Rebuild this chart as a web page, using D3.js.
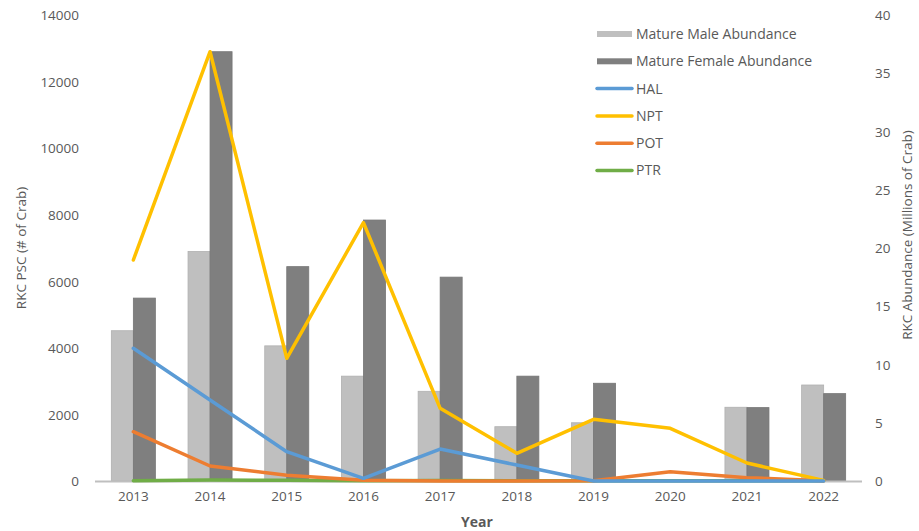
<!DOCTYPE html>
<html>
<head>
<meta charset="utf-8">
<script src="https://cdn.jsdelivr.net/npm/d3@7"></script>
<style>
  body { margin: 0; background: #fff; }
  text { font-family: "Open Sans", "Liberation Sans", sans-serif; fill: #595959; }
</style>
</head>
<body>
<svg id="vis"></svg>
<script>
// chart values
var years = ["2013", "2014", "2015", "2016", "2017", "2018", "2019", "2020", "2021", "2022"];
// abundance in millions of crab (right axis)
var maleAbundance   = [12.9, 19.7, 11.6, 9.0, 7.7, 4.66, 5.0, null, 6.33, 8.24];
var femaleAbundance = [15.7, 36.85, 18.4, 22.4, 17.5, 9.0, 8.39, null, 6.3, 7.5];
// PSC, number of crab (left axis)
var hal = [3986, 2433, 880, 80, 961, 480, 0, 0, 0, 0];
var npt = [6640, 12897, 3686, 7760, 2183, 831, 1853, 1583, 540, 20];
var pot = [1481, 450, 170, 20, 0, 0, 10, 280, 100, 10];
var ptr = [10, 30, 20, 10, 15, 10, 10, 10, 5, 10];

var leftTicks = [0, 2000, 4000, 6000, 8000, 10000, 12000, 14000];
var rightTicks = [0, 5, 10, 15, 20, 25, 30, 35, 40];

var lineSeries = [
    {name: "HAL", values: hal, color: "#5b9bd5"},
    {name: "NPT", values: npt, color: "#ffc000"},
    {name: "POT", values: pot, color: "#ed7d31"},
    {name: "PTR", values: ptr, color: "#70ad47"}
];
var barSeries = [
    {name: "Mature Male Abundance", values: maleAbundance, color: "#bfbfbf", stroke: "#b0b0b0"},
    {name: "Mature Female Abundance", values: femaleAbundance, color: "#7f7f7f", stroke: "#767676"}
];

var width = 919, height = 531;
var plotLeft = 95, plotRight = 862, plotTop = 15, plotBottom = 481;

var svg = d3.select("#vis")
    .attr("width", width)
    .attr("height", height);

var x = d3.scaleBand()
    .domain(years)
    .range([plotLeft, plotRight])
    .padding(0);

var x1 = d3.scaleBand()
    .domain(["male", "female"])
    .range([0, x.bandwidth()])
    .paddingInner(0)
    .paddingOuter(0.742);

var yLeft = d3.scaleLinear()
    .domain([0, 14000])
    .range([plotBottom, plotTop]);

var yRight = d3.scaleLinear()
    .domain([0, 40])
    .range([plotBottom, plotTop]);

// left axis labels
var leftAxis = d3.axisLeft(yLeft).tickValues(leftTicks).tickSize(0).tickPadding(0)
    .tickFormat(d3.format("d"));
svg.append("g")
    .attr("class", "y axis")
    .attr("transform", "translate(79,0)")
    .call(leftAxis)
    .call(function (g) { g.select(".domain").remove(); })
    .selectAll("text")
    .style("font-size", "13.5px")
    .attr("dy", "0.35em");

// right axis labels
var rightAxis = d3.axisRight(yRight).tickValues(rightTicks).tickSize(0).tickPadding(0);
svg.append("g")
    .attr("class", "y2 axis")
    .attr("transform", "translate(875,0)")
    .call(rightAxis)
    .call(function (g) { g.select(".domain").remove(); })
    .selectAll("text")
    .style("font-size", "13.5px")
    .attr("dy", "0.35em");

// bars
barSeries.forEach(function (s, si) {
    var key = si === 0 ? "male" : "female";
    svg.append("g").selectAll("rect")
        .data(years.map(function (y, i) { return {year: y, v: s.values[i]}; })
            .filter(function (d) { return d.v != null; }))
        .enter().append("rect")
        .attr("x", function (d) { return x(d.year) + x1(key); })
        .attr("width", x1.bandwidth())
        .attr("y", function (d) { return yRight(d.v); })
        .attr("height", function (d) { return plotBottom - yRight(d.v); })
        .style("fill", s.color)
        .style("stroke", s.stroke)
        .style("stroke-width", 0.8);
});

// x axis line
svg.append("line")
    .attr("x1", plotLeft).attr("x2", plotRight)
    .attr("y1", plotBottom + 0.5).attr("y2", plotBottom + 0.5)
    .style("stroke", "#bfbfbf")
    .style("stroke-width", 2);

// x labels
var xAxis = d3.axisBottom(x).tickSize(0).tickPadding(0);
svg.append("g")
    .attr("class", "x axis")
    .attr("transform", "translate(0,491)")
    .call(xAxis)
    .call(function (g) { g.select(".domain").remove(); })
    .selectAll("text")
    .style("font-size", "13.5px")
    .attr("dy", "0.71em");

// lines
var line = d3.line()
    .x(function (d, i) { return x(years[i]) + x.bandwidth() / 2; })
    .y(function (d) { return yLeft(d); });

lineSeries.slice().reverse().forEach(function (s) {
    svg.append("path")
        .datum(s.values)
        .attr("d", line)
        .style("fill", "none")
        .style("stroke", s.color)
        .style("stroke-width", 3.5)
        .style("stroke-linejoin", "round")
        .style("stroke-linecap", "round");
});

// axis titles
svg.append("text")
    .attr("transform", "translate(26,248) rotate(-90)")
    .style("text-anchor", "middle")
    .style("font-size", "13.5px")
    .text("RKC PSC  (# of Crab)");

svg.append("text")
    .attr("transform", "translate(912,235) rotate(-90)")
    .style("text-anchor", "middle")
    .style("font-size", "13.5px")
    .text("RKC Abundance (Millions of Crab)");

svg.append("text")
    .attr("x", 477)
    .attr("y", 527)
    .style("text-anchor", "middle")
    .style("font-size", "14px")
    .style("font-weight", "bold")
    .style("fill", "#595959")
    .text("Year");

// legend
var legendItems = barSeries.map(function (s) { return {name: s.name, color: s.color, type: "bar"}; })
    .concat(lineSeries.map(function (s) { return {name: s.name, color: s.color, type: "line"}; }));

var legend = svg.selectAll(".legend")
    .data(legendItems)
    .enter().append("g")
    .attr("class", "legend")
    .attr("transform", function (d, i) {
        return "translate(597," + (34 + i * 27.3) + ")";
    });

legend.filter(function (d) { return d.type === "bar"; })
    .append("rect")
    .attr("x", 0).attr("y", -3)
    .attr("width", 35).attr("height", 6)
    .style("fill", function (d) { return d.color; });

legend.filter(function (d) { return d.type === "line"; })
    .append("line")
    .attr("x1", 0).attr("x2", 35)
    .attr("y1", 0).attr("y2", 0)
    .style("stroke", function (d) { return d.color; })
    .style("stroke-width", 3.5)
    .style("stroke-linecap", "round");

legend.append("text")
    .attr("x", 39)
    .attr("y", 0)
    .attr("dy", "0.35em")
    .style("font-size", "14px")
    .text(function (d) { return d.name; });
</script>
</body>
</html>
